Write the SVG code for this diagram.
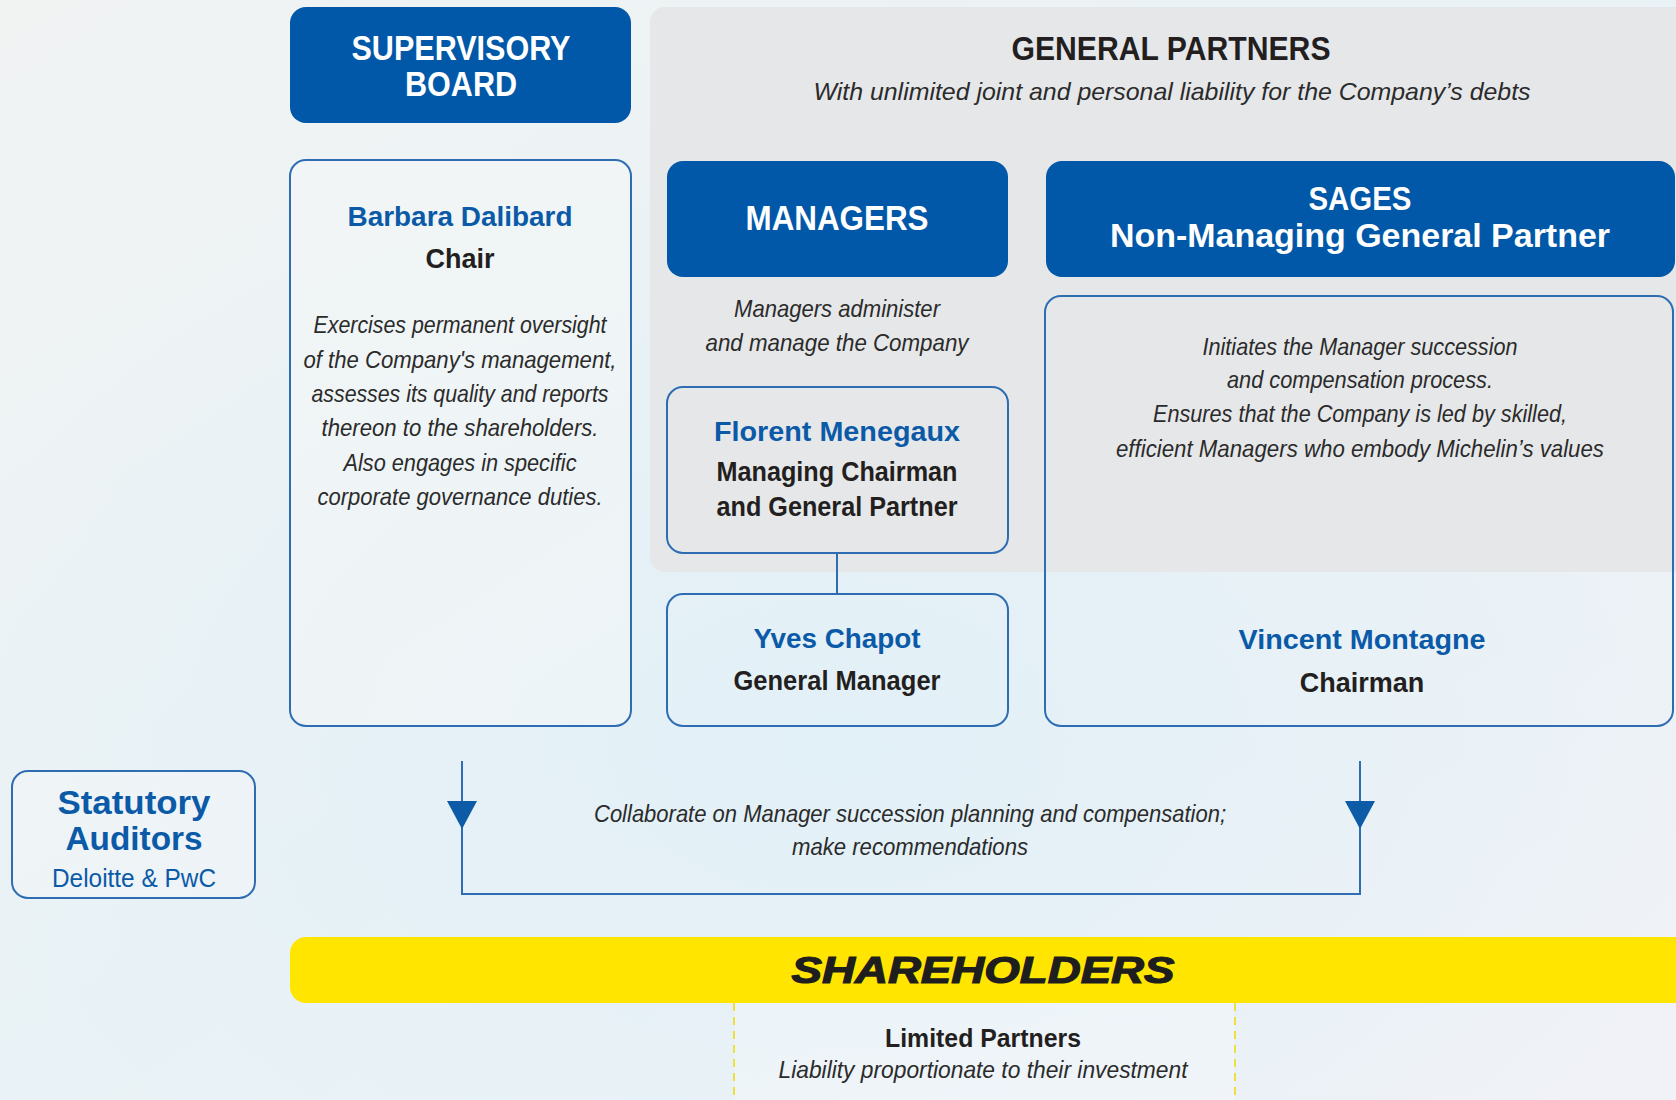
<svg xmlns="http://www.w3.org/2000/svg" width="1676" height="1100" viewBox="0 0 1676 1100">
<defs>
<linearGradient id="bg" x1="0" y1="0" x2="1" y2="1">
<stop offset="0" stop-color="#F1F3F3"/>
<stop offset="0.5" stop-color="#E9F2F6"/>
<stop offset="1" stop-color="#F1F2F7"/>
</linearGradient>
<radialGradient id="glow" cx="0.5" cy="0.68" r="0.55">
<stop offset="0" stop-color="#E2F0F7"/>
<stop offset="1" stop-color="#E2F0F7" stop-opacity="0"/>
</radialGradient>
<marker id="tri" viewBox="0 0 28 30" refX="28" refY="15" markerWidth="28" markerHeight="30" markerUnits="userSpaceOnUse" orient="auto">
<path d="M0,0 L28,15 L0,30 Z" fill="#0D5AA7"/>
</marker>
<style>
text { font-family: "Liberation Sans", Arial, sans-serif; text-anchor: middle; }
.wh { font-weight: 700; fill: #FFFFFF; font-size: 35px; }
.bn { font-weight: 700; fill: #0B5AA8; font-size: 28px; }
.dk { font-weight: 700; fill: #231F20; font-size: 27px; }
.it { font-style: italic; fill: #2B2B2B; font-size: 24px; }
.blue { fill: #0158A8; }
.outl { fill: none; stroke: #2F6DB3; stroke-width: 2; }
.conn { fill: none; stroke: #2F6DB3; stroke-width: 2; }
</style>
</defs>

<rect x="0" y="0" width="1676" height="1100" fill="url(#bg)"/>
<rect x="0" y="0" width="1676" height="1100" fill="url(#glow)"/>

<!-- General partners panel -->
<g id="general-partners">
<path d="M665,7 H1690 V572 H665 A15,15 0 0 1 650,557 V22 A15,15 0 0 1 665,7 Z" fill="#E6E7E9"/>
<text x="1171" y="60" style="font-weight:700;fill:#231F20;font-size:34px" textLength="319" lengthAdjust="spacingAndGlyphs">GENERAL PARTNERS</text>
<text class="it" x="1172" y="100" font-size="25" textLength="717" lengthAdjust="spacingAndGlyphs">With unlimited joint and personal liability for the Company’s debts</text>
</g>

<g id="supervisory-board">
<rect class="blue" x="290" y="7" width="341" height="116" rx="16"/>
<text class="wh" x="461" y="60" textLength="219" lengthAdjust="spacingAndGlyphs">SUPERVISORY</text>
<text class="wh" x="461" y="96" textLength="112" lengthAdjust="spacingAndGlyphs">BOARD</text>
</g>

<g id="barbara-dalibard">
<rect class="outl" x="290" y="160" width="341" height="566" rx="16" style="fill:#F3F6F7;fill-opacity:0.6"/>
<text class="bn" x="460" y="226" textLength="225" lengthAdjust="spacingAndGlyphs">Barbara Dalibard</text>
<text class="dk" x="460" y="268">Chair</text>
<text class="it" x="460" y="333" textLength="293" lengthAdjust="spacingAndGlyphs">Exercises permanent oversight</text>
<text class="it" x="460" y="368" textLength="313" lengthAdjust="spacingAndGlyphs">of the Company's management,</text>
<text class="it" x="460" y="402" textLength="297" lengthAdjust="spacingAndGlyphs">assesses its quality and reports</text>
<text class="it" x="460" y="436" textLength="277" lengthAdjust="spacingAndGlyphs">thereon to the shareholders.</text>
<text class="it" x="460" y="471" textLength="233" lengthAdjust="spacingAndGlyphs">Also engages in specific</text>
<text class="it" x="460" y="505" textLength="285" lengthAdjust="spacingAndGlyphs">corporate governance duties.</text>
</g>

<g id="managers">
<rect class="blue" x="667" y="161" width="341" height="116" rx="16"/>
<text class="wh" x="837" y="230" textLength="183" lengthAdjust="spacingAndGlyphs">MANAGERS</text>
<text class="it" x="837" y="317" textLength="206" lengthAdjust="spacingAndGlyphs">Managers administer</text>
<text class="it" x="837" y="351" textLength="263" lengthAdjust="spacingAndGlyphs">and manage the Company</text>
</g>

<g id="sages">
<rect class="blue" x="1046" y="161" width="629" height="116" rx="16"/>
<text class="wh" x="1360" y="210" style="font-size:33px" textLength="103" lengthAdjust="spacingAndGlyphs">SAGES</text>
<text class="wh" x="1360" y="247" style="font-size:33px" textLength="500" lengthAdjust="spacingAndGlyphs">Non-Managing General Partner</text>
</g>

<g id="sages-role">
<rect class="outl" x="1045" y="296" width="628" height="430" rx="16"/>
<text class="it" x="1360" y="355" textLength="315" lengthAdjust="spacingAndGlyphs">Initiates the Manager succession</text>
<text class="it" x="1360" y="388" textLength="266" lengthAdjust="spacingAndGlyphs">and compensation process.</text>
<text class="it" x="1360" y="422" textLength="414" lengthAdjust="spacingAndGlyphs">Ensures that the Company is led by skilled,</text>
<text class="it" x="1360" y="457" textLength="488" lengthAdjust="spacingAndGlyphs">efficient Managers who embody Michelin’s values</text>
<text class="bn" x="1362" y="649" textLength="247" lengthAdjust="spacingAndGlyphs">Vincent Montagne</text>
<text class="dk" x="1362" y="692">Chairman</text>
</g>

<g id="florent-menegaux">
<rect class="outl" x="667" y="387" width="341" height="166" rx="16"/>
<text class="bn" x="837" y="441" textLength="246" lengthAdjust="spacingAndGlyphs">Florent Menegaux</text>
<text class="dk" x="837" y="481" textLength="241" lengthAdjust="spacingAndGlyphs">Managing Chairman</text>
<text class="dk" x="837" y="516" textLength="241" lengthAdjust="spacingAndGlyphs">and General Partner</text>
</g>

<g id="yves-chapot">
<rect class="outl" x="667" y="594" width="341" height="132" rx="16"/>
<text class="bn" x="837" y="648" textLength="167" lengthAdjust="spacingAndGlyphs">Yves Chapot</text>
<text class="dk" x="837" y="690" textLength="207" lengthAdjust="spacingAndGlyphs">General Manager</text>
</g>

<g id="statutory-auditors">
<rect class="outl" x="12" y="771" width="243" height="127" rx="16" style="fill:#F3F6F7;fill-opacity:0.5"/>
<text x="134" y="814" style="font-weight:700;fill:#0B5AA8;font-size:33px" textLength="153" lengthAdjust="spacingAndGlyphs">Statutory</text>
<text x="134" y="850" style="font-weight:700;fill:#0B5AA8;font-size:33px" textLength="137" lengthAdjust="spacingAndGlyphs">Auditors</text>
<text x="134" y="887" style="fill:#0B5AA8;font-size:25px" textLength="164" lengthAdjust="spacingAndGlyphs">Deloitte &amp; PwC</text>
</g>

<g id="connectors">
<line class="conn" x1="837" y1="553" x2="837" y2="594"/>
<path class="conn" d="M462,761 V894 H1360 V761"/>
<path class="conn" d="M462,761 V829" marker-end="url(#tri)"/>
<path class="conn" d="M1360,761 V829" marker-end="url(#tri)"/>
<text class="it" x="910" y="822" textLength="632" lengthAdjust="spacingAndGlyphs">Collaborate on Manager succession planning and compensation;</text>
<text class="it" x="910" y="855" textLength="236" lengthAdjust="spacingAndGlyphs">make recommendations</text>
</g>

<g id="limited-partners">
<path d="M734,1003 V1110 M1235,1003 V1110" fill="none" stroke="#F2D800" stroke-width="1.5" stroke-dasharray="8,6"/>
<rect x="735" y="1003" width="499" height="100" fill="#FFFFFF" fill-opacity="0.25"/>
<text x="983" y="1047" style="font-weight:700;fill:#231F20;font-size:25px" textLength="196" lengthAdjust="spacingAndGlyphs">Limited Partners</text>
<text class="it" x="983" y="1078" textLength="409" lengthAdjust="spacingAndGlyphs">Liability proportionate to their investment</text>
</g>

<g id="shareholders">
<rect x="290" y="937" width="1400" height="66" rx="16" fill="#FFE500"/>
<text x="983" y="983" style="font-weight:700;font-style:italic;fill:#1E1E1E;font-size:36px;stroke:#1E1E1E;stroke-width:1.2" textLength="383" lengthAdjust="spacingAndGlyphs">SHAREHOLDERS</text>
</g>
</svg>
